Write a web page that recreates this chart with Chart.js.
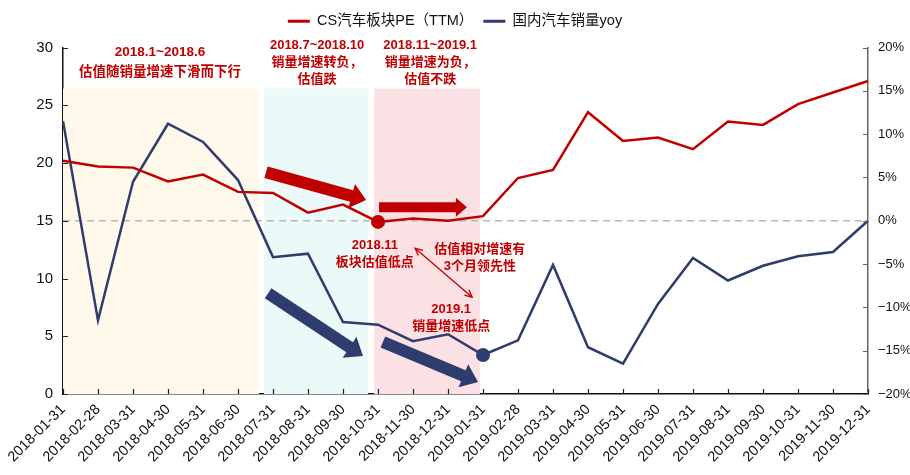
<!DOCTYPE html>
<html>
<head>
<meta charset="utf-8">
<script src="https://cdn.jsdelivr.net/npm/chart.js@4.4.0/dist/chart.umd.min.js"></script>
<style>
  html, body { margin: 0; padding: 0; background: #fff; }
  #wrap { width: 910px; height: 475px; }
</style>
</head>
<body>
<div id="wrap"><canvas id="myChart"></canvas></div>
<script>
// categories
const months = [
  "2018-01-31", "2018-02-28", "2018-03-31", "2018-04-30", "2018-05-31", "2018-06-30",
  "2018-07-31", "2018-08-31", "2018-09-30", "2018-10-31", "2018-11-30", "2018-12-31",
  "2019-01-31", "2019-02-28", "2019-03-31", "2019-04-30", "2019-05-31", "2019-06-30",
  "2019-07-31", "2019-08-31", "2019-09-30", "2019-10-31", "2019-11-30", "2019-12-31"
];
// CS汽车板块PE（TTM）, left axis
const pe = [20.2, 19.7, 19.6, 18.4, 19.0, 17.5, 17.4, 15.7, 16.4, 14.9, 15.2, 15.0,
            15.4, 18.7, 19.4, 24.4, 21.9, 22.2, 21.2, 23.6, 23.3, 25.1, 26.1, 27.1];
// 国内汽车销量yoy (%), right axis
const yoy = [11.5, -11.5, 4.5, 11.2, 9.1, 4.7, -4.2, -3.8, -11.7, -12.0, -13.9, -13.1,
             -15.5, -13.8, -5.1, -14.6, -16.5, -9.6, -4.3, -6.9, -5.2, -4.1, -3.6, 0.0];

const leftTicks = [0, 5, 10, 15, 20, 25, 30];
const rightTicks = [-20, -15, -10, -5, 0, 5, 10, 15, 20];

const peLowIndex = 9;    // 2018.11 板块估值低点 (marked on 2018-10-31)
const yoyLowIndex = 12;  // 2019.1 销量增速低点

const RED = "#c00000";
const BLUE = "#2f3d6e";

// shaded periods, in category index / left-axis units
const bands = [
  { from: 0, to: 5.6, top: 26.45, color: "#fef9ea" },
  { from: 5.74, to: 8.71, top: 26.45, color: "#ebf9f9" },
  { from: 8.89, to: 11.91, top: 26.45, color: "#fbe1e4" }
];

// text notes: x = category index, y = left-axis value
const notes = [
  { x: 2.77, y: 29.56, text: "2018.1~2018.6", size: 13.5 },
  { x: 2.77, y: 27.83, text: "估值随销量增速下滑而下行", size: 13.5 },
  { x: 7.26, y: 30.16, text: "2018.7~2018.10", size: 13 },
  { x: 7.26, y: 28.7, text: "销量增速转负，", size: 13 },
  { x: 7.26, y: 27.2, text: "估值跌", size: 13 },
  { x: 10.49, y: 30.16, text: "2018.11~2019.1", size: 13 },
  { x: 10.49, y: 28.7, text: "销量增速为负，", size: 13 },
  { x: 10.49, y: 27.2, text: "估值不跌", size: 13 },
  { x: 8.91, y: 12.88, text: "2018.11", size: 13 },
  { x: 8.91, y: 11.41, text: "板块估值低点", size: 13 },
  { x: 11.91, y: 12.53, text: "估值相对增速有", size: 13 },
  { x: 11.91, y: 11.06, text: "3个月领先性", size: 13 },
  { x: 11.09, y: 7.35, text: "2019.1", size: 13 },
  { x: 11.09, y: 5.88, text: "销量增速低点", size: 13 }
];

// block arrows: tail (x1,y1) -> tip (x2,y2)
const arrows = [
  { x1: 5.8, y1: 19.2, x2: 8.66, y2: 16.8, shaft: 12, head: 25, len: 15, color: RED },
  { x1: 9.03, y1: 16.16, x2: 11.54, y2: 16.16, shaft: 10, head: 19, len: 11, color: RED },
  { x1: 5.86, y1: 8.73, x2: 8.57, y2: 3.28, shaft: 12, head: 25, len: 16, color: BLUE },
  { x1: 9.14, y1: 4.5, x2: 11.86, y2: 1.04, shaft: 12, head: 25, len: 16, color: BLUE }
];
const linkArrow = { x1: 10.06, y1: 12.62, x2: 11.69, y2: 8.38 };

function blockArrow(ctx, x1, y1, x2, y2, shaft, head, len, color) {
  const ang = Math.atan2(y2 - y1, x2 - x1);
  const d = Math.hypot(x2 - x1, y2 - y1);
  ctx.save();
  ctx.translate(x1, y1);
  ctx.rotate(ang);
  ctx.fillStyle = color;
  ctx.beginPath();
  ctx.moveTo(0, -shaft / 2);
  ctx.lineTo(d - len, -shaft / 2);
  ctx.lineTo(d - len, -head / 2);
  ctx.lineTo(d, 0);
  ctx.lineTo(d - len, head / 2);
  ctx.lineTo(d - len, shaft / 2);
  ctx.lineTo(0, shaft / 2);
  ctx.closePath();
  ctx.fill();
  ctx.restore();
}

function openHead(ctx, x, y, ang) {
  const s = 8;
  ctx.beginPath();
  ctx.moveTo(x + s * Math.cos(ang + 0.45), y + s * Math.sin(ang + 0.45));
  ctx.lineTo(x, y);
  ctx.lineTo(x + s * Math.cos(ang - 0.45), y + s * Math.sin(ang - 0.45));
  ctx.stroke();
}

const decor = {
  id: "decor",
  beforeInit(chart) {
    // leave more room between legend and plot, as in the original
    const lg = chart.legend;
    const fit = lg.fit.bind(lg);
    lg.fit = function () {
      fit();
      this.height += 9;
    };
  },
  beforeDatasetsDraw(chart) {
    const { ctx, chartArea: a, scales: { x, y } } = chart;
    ctx.save();
    bands.forEach((b) => {
      const x0 = x.getPixelForValue(b.from);
      const x1 = x.getPixelForValue(b.to);
      const yt = y.getPixelForValue(b.top);
      ctx.fillStyle = b.color;
      ctx.fillRect(x0, yt, x1 - x0, y.getPixelForValue(0) - yt);
    });
    const yz = chart.scales.y1.getPixelForValue(0);
    ctx.strokeStyle = "#b8b8b8";
    ctx.lineWidth = 1.5;
    ctx.setLineDash([7, 5]);
    ctx.beginPath();
    ctx.moveTo(a.left, yz);
    ctx.lineTo(a.right, yz);
    ctx.stroke();
    ctx.restore();
  },
  afterDatasetsDraw(chart) {
    const { ctx, scales: { x, y } } = chart;
    ctx.save();
    arrows.forEach((r) => {
      blockArrow(ctx, x.getPixelForValue(r.x1), y.getPixelForValue(r.y1),
        x.getPixelForValue(r.x2), y.getPixelForValue(r.y2), r.shaft, r.head, r.len, r.color);
    });
    // thin double-headed arrow
    const ax = x.getPixelForValue(linkArrow.x1), ay = y.getPixelForValue(linkArrow.y1);
    const bx = x.getPixelForValue(linkArrow.x2), by = y.getPixelForValue(linkArrow.y2);
    ctx.strokeStyle = RED;
    ctx.lineWidth = 1.3;
    ctx.beginPath();
    ctx.moveTo(ax, ay);
    ctx.lineTo(bx, by);
    ctx.stroke();
    const ang = Math.atan2(by - ay, bx - ax);
    openHead(ctx, ax, ay, ang);
    openHead(ctx, bx, by, ang + Math.PI);
    // notes
    ctx.fillStyle = RED;
    ctx.textAlign = "center";
    ctx.textBaseline = "middle";
    notes.forEach((n) => {
      ctx.font = "bold " + n.size + "px 'Liberation Sans', 'Noto Sans CJK SC', sans-serif";
      ctx.fillText(n.text, x.getPixelForValue(n.x), y.getPixelForValue(n.y));
    });
    ctx.restore();
  },
  afterDraw(chart) {
    // inward tick marks
    const { ctx, chartArea: a, scales: { x, y, y1 } } = chart;
    ctx.save();
    ctx.lineWidth = 1.2;
    ctx.strokeStyle = "#222";
    ctx.beginPath();
    x.ticks.forEach((t, i) => {
      const px = Math.round(x.getPixelForTick(i)) + 0.5;
      ctx.moveTo(px, a.bottom);
      ctx.lineTo(px, a.bottom - 5);
    });
    y.ticks.forEach((t, i) => {
      const py = Math.round(y.getPixelForTick(i)) + 0.5;
      ctx.moveTo(a.left, py);
      ctx.lineTo(a.left + 5, py);
    });
    ctx.stroke();
    ctx.strokeStyle = "#666";
    ctx.beginPath();
    y1.ticks.forEach((t, i) => {
      const py = Math.round(y1.getPixelForTick(i)) + 0.5;
      ctx.moveTo(a.right, py);
      ctx.lineTo(a.right - 5, py);
    });
    ctx.stroke();
    ctx.restore();
  }
};

const ctx = document.getElementById("myChart");
const myChart = new Chart(ctx, {
  type: "line",
  data: {
    labels: months,
    datasets: [
      {
        label: "CS汽车板块PE（TTM）",
        data: pe,
        yAxisID: "y",
        borderColor: RED,
        backgroundColor: RED,
        borderWidth: 2.5,
        pointRadius: (c) => (c.dataIndex === peLowIndex ? 7 : 0),
        pointHoverRadius: 0,
        pointBorderWidth: 0,
        tension: 0
      },
      {
        label: "国内汽车销量yoy",
        data: yoy,
        yAxisID: "y1",
        borderColor: BLUE,
        backgroundColor: BLUE,
        borderWidth: 2.5,
        pointRadius: (c) => (c.dataIndex === yoyLowIndex ? 7 : 0),
        pointHoverRadius: 0,
        pointBorderWidth: 0,
        tension: 0
      }
    ]
  },
  options: {
    responsive: true,
    maintainAspectRatio: false,
    animation: false,
    events: [],
    layout: { padding: { top: 4, left: 0, right: 0, bottom: 0 } },
    plugins: {
      tooltip: { enabled: false },
      legend: {
        position: "top",
        labels: {
          usePointStyle: true,
          pointStyle: "line",
          pointStyleWidth: 22,
          color: "#111",
          padding: 10,
          font: { size: 14.5, family: "'Liberation Sans', 'Noto Sans CJK SC', sans-serif" },
          generateLabels: (chart) =>
            Chart.defaults.plugins.legend.labels.generateLabels(chart).map((l) => ({
              ...l,
              lineWidth: 3,
              strokeStyle: l.fillStyle
            }))
        }
      }
    },
    scales: {
      x: {
        type: "category",
        offset: false,
        grid: { display: false, drawTicks: false },
        border: { display: true, color: "#111", width: 1.5 },
        afterFit: (s) => { s.height = 81; },
        ticks: {
          autoSkip: false,
          maxRotation: 45,
          minRotation: 45,
          padding: 7,
          color: "#111",
          font: { size: 14.5, family: "'Liberation Sans', sans-serif" }
        }
      },
      y: {
        position: "left",
        min: 0,
        max: 30,
        afterBuildTicks: (s) => { s.ticks = leftTicks.map((v) => ({ value: v })); },
        afterFit: (s) => { s.width = 63; },
        grid: { display: false, drawTicks: false },
        border: { display: true, color: "#111", width: 1.5 },
        ticks: {
          padding: 10,
          color: "#111",
          font: { size: 15, family: "'Liberation Sans', sans-serif" }
        }
      },
      y1: {
        position: "right",
        min: -20,
        max: 20,
        afterBuildTicks: (s) => { s.ticks = rightTicks.map((v) => ({ value: v })); },
        afterFit: (s) => { s.width = 42; },
        grid: { display: false, drawTicks: false },
        border: { display: true, color: "#666", width: 1.5 },
        ticks: {
          padding: 10,
          color: "#111",
          font: { size: 13, family: "'Liberation Sans', sans-serif" },
          callback: (v) => String(v).replace("-", "\u2212") + "%"
        }
      }
    }
  },
  plugins: [decor]
});
</script>
</body>
</html>
